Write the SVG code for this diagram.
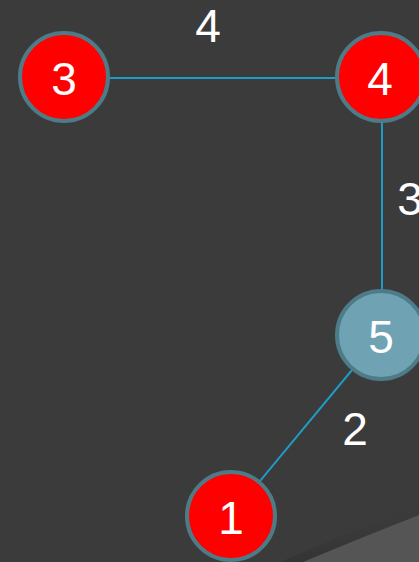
<svg xmlns="http://www.w3.org/2000/svg" width="419" height="562" viewBox="0 0 419 562">
<defs>
<linearGradient id="sh" x1="0" y1="0" x2="0.15" y2="1">
<stop offset="0" stop-color="#3b3b3b" stop-opacity="0"/>
<stop offset="1" stop-color="#2f2f2f" stop-opacity="0.6"/>
</linearGradient>
<style>
.edge{stroke:#1f9cc6;stroke-width:2;fill:none}
.n circle{stroke:#4e7b88;stroke-width:4}
.red{fill:#ff0000}
.blue{fill:#6fa3b4}
text{font-family:"Liberation Sans",Arial,sans-serif;font-size:46px;fill:#ffffff;text-anchor:middle}
</style>
</defs>
<rect width="419" height="562" fill="#3b3b3b"/>
<path d="M280 562 Q360 528 419 505 L419 515 Q360 538 303 562 Z" fill="url(#sh)"/>
<path d="M303 562 Q360 538 419 515 L419 562 Z" fill="#555555"/>
<g id="connectors">
<line class="edge" x1="64" y1="78" x2="381" y2="78"/>
<line class="edge" x1="382" y1="78" x2="382" y2="335"/>
<line class="edge" x1="381" y1="335" x2="231" y2="516"/>
</g>
<g id="edge-labels">
<text x="208" y="42">4</text>
<text x="410" y="215">3</text>
<text x="355" y="445">2</text>
</g>
<g id="node3" class="n"><circle class="red" cx="64" cy="77" r="44"/><text x="64" y="95">3</text></g>
<g id="node4" class="n"><circle class="red" cx="381" cy="77" r="44"/><text x="380" y="95">4</text></g>
<g id="node5" class="n"><circle class="blue" cx="381" cy="335" r="44"/><text x="381" y="353">5</text></g>
<g id="node1" class="n"><circle class="red" cx="231" cy="516" r="44"/><text x="231" y="534">1</text></g>
</svg>
